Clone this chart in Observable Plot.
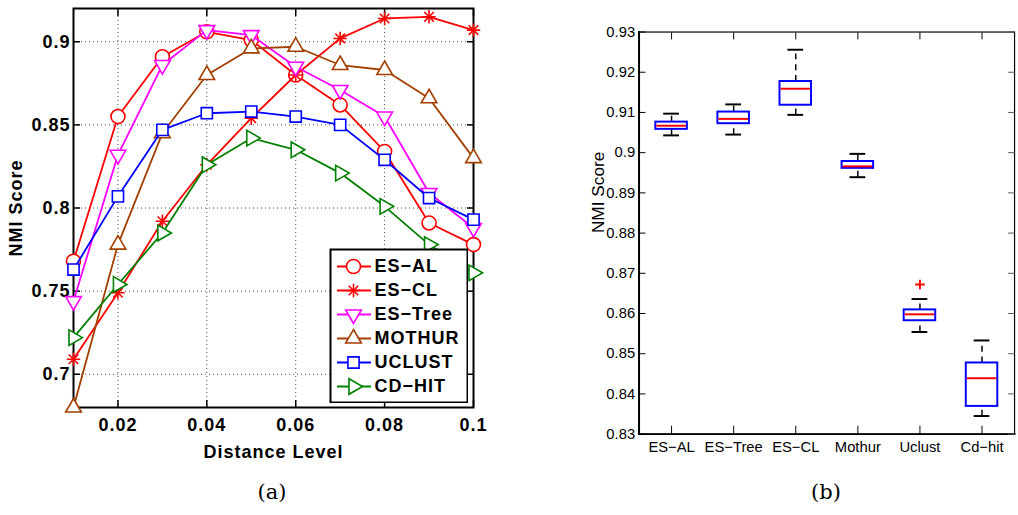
<!DOCTYPE html>
<html><head><meta charset="utf-8">
<script src="https://cdn.jsdelivr.net/npm/d3@7"></script>
<script src="https://cdn.jsdelivr.net/npm/@observablehq/plot@0.6"></script>
<style>
html,body{margin:0;padding:0;background:#fff;overflow:hidden;}
#root{position:relative;width:1018px;height:515px;overflow:hidden;background:#fff;}
.abs{position:absolute;}
.cap{position:absolute;font-family:"DejaVu Serif","Liberation Serif",serif;font-size:21px;color:#000;transform:translateX(-50%);line-height:1;}
</style></head>
<body><div id="root"></div>
<script>
// ---------- Panel (a) data ----------
const distance = [0.01, 0.02, 0.03, 0.04, 0.05, 0.06, 0.07, 0.08, 0.09, 0.1];
const seriesNames = ["ES−AL", "ES−CL", "ES−Tree", "MOTHUR", "UCLUST", "CD−HIT"];
const esAL   = [0.768, 0.855, 0.891, 0.906, 0.901, 0.880, 0.862, 0.834, 0.791, 0.778];
const esCL   = [0.709, 0.749, 0.792, 0.826, 0.854, 0.880, 0.902, 0.914, 0.915, 0.907];
const esTree = [0.744, 0.832, 0.886, 0.907, 0.904, 0.885, 0.871, 0.855, 0.809, 0.788];
const mothur = [0.680, 0.778, 0.845, 0.880, 0.896, 0.897, 0.886, 0.883, 0.866, 0.830];
const uclust = [0.763, 0.807, 0.847, 0.857, 0.858, 0.855, 0.850, 0.829, 0.806, 0.793];
const cdhit  = [0.722, 0.754, 0.785, 0.826, 0.842, 0.835, 0.821, 0.801, 0.778, 0.761];
const xTicksA = [0.02, 0.04, 0.06, 0.08, 0.1];
const yTicksA = [0.7, 0.75, 0.8, 0.85, 0.9];

// ---------- Panel (b) data ----------
const methods   = ["ES−AL", "ES−Tree", "ES−CL", "Mothur", "Uclust", "Cd−hit"];
const whiskerLo = [0.9043, 0.9045, 0.9094, 0.8939, 0.8554, 0.8345];
const q1        = [0.9058, 0.9072, 0.9118, 0.8961, 0.8582, 0.8369];
const median    = [0.9067, 0.9084, 0.9159, 0.8966, 0.8598, 0.8439];
const q3        = [0.9076, 0.9101, 0.9177, 0.8978, 0.8609, 0.8477];
const whiskerHi = [0.9097, 0.9120, 0.9256, 0.8997, 0.8636, 0.8533];
const outlierMethod = ["Uclust"];
const outlierValue  = [0.8672];
const yTicksB = [0.83, 0.84, 0.85, 0.86, 0.87, 0.88, 0.89, 0.9, 0.91, 0.92, 0.93];

// ---------- styles ----------
const colors  = ["#ff0000", "#ff0000", "#ff00ff", "#a33f00", "#0000ff", "#008000"];
const symbols = ["circle", "asterisk", "triangle", "triangle", "square", "triangle"];
const rotates = [0, 0, 180, 0, 0, 90];
const radii   = [7, 4.4, 5.8, 5.8, 6.3, 5.8];

const allValues = [esAL, esCL, esTree, mothur, uclust, cdhit];
const rowsA = seriesNames.flatMap((s, i) => distance.map((d, j) => ({series: s, d, v: allValues[i][j], i})));

function seriesMarks(i, withLine) {
  const data = rowsA.filter(r => r.i === i);
  const m = [];
  if (withLine) m.push(Plot.line(data, {x: "d", y: "v", stroke: colors[i], strokeWidth: 1.8}));
  if (symbols[i] === "asterisk") {
    m.push(Plot.dot(data, {x: "d", y: "v", symbol: "plus", r: radii[i], stroke: colors[i], strokeWidth: 1.6}));
    m.push(Plot.dot(data, {x: "d", y: "v", symbol: "times", r: radii[i], stroke: colors[i], strokeWidth: 1.6}));
  } else {
    m.push(Plot.dot(data, {x: "d", y: "v", symbol: symbols[i], rotate: rotates[i], r: radii[i], fill: "white", stroke: colors[i], strokeWidth: 1.6}));
  }
  return m;
}

const root = document.getElementById("root");
const fmt = d => String(+d.toFixed(3));
const gridStyle = {stroke: "#000", strokeOpacity: 0.7, strokeDasharray: "1,3", strokeWidth: 1};

const plotA = Plot.plot({
  width: 500, height: 475,
  marginLeft: 73, marginRight: 27, marginTop: 8, marginBottom: 68,
  x: {domain: [0.01, 0.1], axis: null},
  y: {domain: [0.68, 0.92], axis: null},
  style: "font-family:'Liberation Sans',Arial,sans-serif;font-size:18px;font-weight:bold;letter-spacing:1px;color:#000;background:transparent;overflow:visible;",
  marks: [
    Plot.gridX(xTicksA, gridStyle),
    Plot.gridY(yTicksA, gridStyle),
    Plot.frame({stroke: "#000", strokeWidth: 2}),
    Plot.axisX(xTicksA, {anchor: "bottom", tickSize: -7, tickPadding: 18, tickFormat: fmt, strokeWidth: 1.5,
      label: "Distance Level", labelAnchor: "center", labelOffset: 50, labelArrow: "none"}),
    Plot.axisX(xTicksA, {anchor: "top", tickSize: -7, tickFormat: () => "", label: null, strokeWidth: 1.5}),
    Plot.axisY(yTicksA, {anchor: "left", tickSize: -7, tickPadding: 10, tickFormat: fmt, strokeWidth: 1.5,
      label: "NMI Score", labelAnchor: "center", labelOffset: 64, labelArrow: "none"}),
    Plot.axisY(yTicksA, {anchor: "right", tickSize: -7, tickFormat: () => "", label: null, strokeWidth: 1.5}),
    ...seriesNames.flatMap((s, i) => seriesMarks(i, true))
  ]
});
const wa = document.createElement("div"); wa.className = "abs"; wa.style.left = "0px"; wa.style.top = "0px";
wa.appendChild(plotA); root.appendChild(wa);

// legend
const legendRows = seriesNames.map((s, i) => ({series: s, i}));
const legendMarks = [Plot.frame({fill: "white", stroke: "#000", strokeWidth: 2})];
legendRows.forEach(row => {
  const i = row.i;
  legendMarks.push(Plot.tickY([row], {y: "series", stroke: colors[i], strokeWidth: 1.8, insetLeft: 7, insetRight: 96}));
  if (symbols[i] === "asterisk") {
    legendMarks.push(Plot.dot([row], {y: "series", frameAnchor: "left", dx: 23, symbol: "plus", r: radii[i], stroke: colors[i], strokeWidth: 1.6}));
    legendMarks.push(Plot.dot([row], {y: "series", frameAnchor: "left", dx: 23, symbol: "times", r: radii[i], stroke: colors[i], strokeWidth: 1.6}));
  } else {
    legendMarks.push(Plot.dot([row], {y: "series", frameAnchor: "left", dx: 23, symbol: symbols[i], rotate: rotates[i], r: radii[i], fill: "white", stroke: colors[i], strokeWidth: 1.6}));
  }
});
legendMarks.push(Plot.text(legendRows, {y: "series", text: "series", frameAnchor: "left", dx: 44, textAnchor: "start", fill: "#000"}));
const legend = Plot.plot({
  width: 139, height: 155, marginLeft: 1, marginRight: 1, marginTop: 1, marginBottom: 1,
  y: {type: "point", domain: seriesNames, padding: 0.6, axis: null},
  style: "font-family:'Liberation Sans',Arial,sans-serif;font-size:18px;font-weight:bold;letter-spacing:1px;background:transparent;",
  marks: legendMarks
});
const wl = document.createElement("div"); wl.className = "abs"; wl.style.left = "329px"; wl.style.top = "248px";
wl.appendChild(legend); root.appendChild(wl);

// ---------- Panel (b) ----------
const stats = methods.map((m, i) => ({name: m, lo: whiskerLo[i], q1: q1[i], med: median[i], q3: q3[i], hi: whiskerHi[i]}));
const outliers = outlierMethod.map((m, i) => ({name: m, value: outlierValue[i]}));
const plotB = Plot.plot({
  width: 485, height: 475,
  marginLeft: 100, marginRight: 4, marginTop: 32, marginBottom: 35,
  x: {domain: methods, paddingInner: 0.5, paddingOuter: 0.25, axis: null},
  y: {domain: [0.83, 0.93], axis: null},
  style: "font-family:'Liberation Sans',Arial,sans-serif;font-size:15px;color:#000;background:transparent;",
  marks: [
    Plot.ruleX(stats, {x: "name", y1: "q3", y2: "hi", stroke: "#000", strokeWidth: 1.5, strokeDasharray: "6,5"}),
    Plot.ruleX(stats, {x: "name", y1: "lo", y2: "q1", stroke: "#000", strokeWidth: 1.5, strokeDasharray: "6,5"}),
    Plot.tickY(stats, {x: "name", y: "hi", stroke: "#000", strokeWidth: 2, insetLeft: 8, insetRight: 8}),
    Plot.tickY(stats, {x: "name", y: "lo", stroke: "#000", strokeWidth: 2, insetLeft: 8, insetRight: 8}),
    Plot.barY(stats, {x: "name", y1: "q1", y2: "q3", fill: "white", stroke: "#0000ff", strokeWidth: 2}),
    Plot.tickY(stats, {x: "name", y: "med", stroke: "#ff0000", strokeWidth: 2, insetLeft: 1, insetRight: 1}),
    Plot.dot(outliers, {x: "name", y: "value", symbol: "plus", r: 3.2, stroke: "#ff0000", strokeWidth: 2}),
    Plot.frame({stroke: "#000", strokeWidth: 1.2}),
    Plot.frame({anchor: "left", stroke: "#000", strokeWidth: 2}),
    Plot.frame({anchor: "bottom", stroke: "#000", strokeWidth: 2}),
    Plot.axisY(yTicksB, {anchor: "left", tickSize: -7, tickPadding: 11, tickFormat: fmt, label: null}),
    Plot.text(["NMI Score"], {frameAnchor: "left", rotate: -90, dx: -41, fontSize: 17.5, fill: "#000"}),
    Plot.axisY(yTicksB, {anchor: "right", tickSize: -7, tickFormat: () => "", label: null, stroke: "#555"}),
    Plot.axisX(methods, {anchor: "bottom", tickSize: -8, tickPadding: 15, label: null}),
    Plot.axisX(methods, {anchor: "top", tickSize: -7, tickFormat: () => "", label: null})
  ]
});
const wb = document.createElement("div"); wb.className = "abs"; wb.style.left = "540px"; wb.style.top = "0px";
wb.appendChild(plotB); root.appendChild(wb);

// captions
const captions = [["(a)", 272], ["(b)", 826]];
captions.forEach(([t, x]) => {
  const c = document.createElement("div"); c.className = "cap"; c.textContent = t;
  c.style.left = x + "px"; c.style.top = "482px"; root.appendChild(c);
});
</script>
</body></html>
